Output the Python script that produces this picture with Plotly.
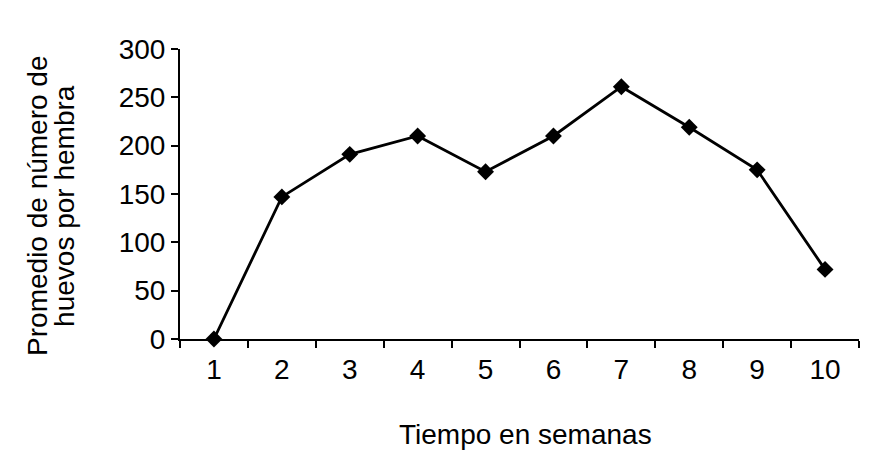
import plotly.graph_objects as go

semanas = ["1", "2", "3", "4", "5", "6", "7", "8", "9", "10"]
huevos = [0, 147, 191, 210, 173, 210, 261, 219, 175, 72]
y_ticks = [0, 50, 100, 150, 200, 250, 300]

fig = go.Figure()
fig.add_trace(go.Scatter(
    x=semanas, y=huevos, mode="lines+markers",
    line=dict(color="black", width=2.8),
    marker=dict(symbol="diamond", size=13, color="black"),
    cliponaxis=False,
))

font = dict(family="Liberation Sans, Arial, sans-serif", size=28, color="black")
fig.update_layout(
    width=880, height=466,
    margin=dict(l=172, r=29, t=41, b=135),
    paper_bgcolor="white", plot_bgcolor="white",
    font=font, showlegend=False,
    xaxis=dict(
        type="category", range=[-0.5, 9.5], tickson="boundaries", ticks="outside",
        ticklen=7, tickwidth=2, tickcolor="black", showline=True, linecolor="black",
        linewidth=2, showgrid=False, zeroline=False, ticklabelstandoff=4,
    ),
    yaxis=dict(
        range=[0, 300], tickvals=y_ticks, ticks="outside", ticklen=7,
        tickwidth=2, tickcolor="black", showline=True, linecolor="black",
        linewidth=2, showgrid=False, zeroline=False,
    ),
    annotations=[
        dict(text="Tiempo en semanas", xref="paper", yref="paper", x=0.5, y=0,
             xshift=6, yshift=-95, xanchor="center", yanchor="middle",
             showarrow=False, font=font),
        dict(text="Promedio de número de", xref="paper", yref="paper", x=0, y=0.459,
             xshift=-142, xanchor="center", yanchor="middle", textangle=-90,
             showarrow=False, font=font),
        dict(text="huevos por hembra", xref="paper", yref="paper", x=0, y=0.459,
             xshift=-115, xanchor="center", yanchor="middle", textangle=-90,
             showarrow=False, font=font),
    ],
)
fig.write_html("out.html")
